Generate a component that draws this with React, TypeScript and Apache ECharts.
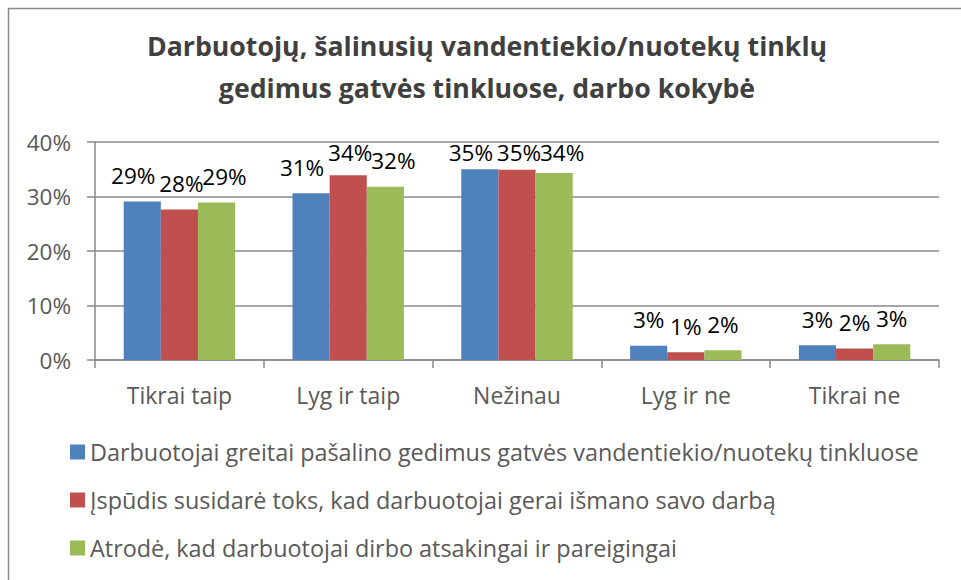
import React, { useEffect, useRef } from "react";
import * as echarts from "echarts";

const titleLines = [
  "Darbuotojų, šalinusių vandentiekio/nuotekų tinklų",
  "gedimus gatvės tinkluose, darbo kokybė",
];
const categories = ["Tikrai taip", "Lyg ir taip", "Nežinau", "Lyg ir ne", "Tikrai ne"];
const seriesNames = [
  "Darbuotojai greitai pašalino gedimus gatvės vandentiekio/nuotekų tinkluose",
  "Įspūdis susidarė toks, kad darbuotojai gerai išmano savo darbą",
  "Atrodė, kad darbuotojai dirbo atsakingai ir pareigingai",
];
const quickFix = [0.291, 0.306, 0.35, 0.026, 0.027];
const knowWork = [0.276, 0.339, 0.349, 0.014, 0.021];
const responsible = [0.289, 0.318, 0.343, 0.018, 0.029];
const colors = ["#4F81BD", "#C0504D", "#9BBB59"];
const yTicks = { min: 0, max: 0.4, interval: 0.1 };

const FONT = "Open Sans";
const pct = (v: number) => Math.round(v * 100) + "%";

export default function App() {
  const ref = useRef<HTMLDivElement>(null);
  useEffect(() => {
    if (!ref.current) return;
    const chart = echarts.init(ref.current, null, { renderer: "svg" });
    const values = [quickFix, knowWork, responsible];
    const shiftX = [-9, 2, 8];
    chart.setOption({
      animation: false,
      backgroundColor: "#fff",
      textStyle: { fontFamily: FONT },
      title: {
        text: titleLines.join("\n"),
        left: 487,
        top: 24,
        padding: 0,
        textAlign: "center",
        textStyle: {
          fontFamily: FONT,
          fontWeight: "bold",
          fontSize: 26.7,
          lineHeight: 42,
          color: "#404040",
        },
      },
      graphic: [
        {
          type: "polyline",
          shape: { points: [[8.5, 580], [8.5, 8.5], [961, 8.5]] },
          style: { stroke: "#8a8a8a", lineWidth: 1.5, fill: "none" },
          silent: true,
        },
      ],
      legend: {
        orient: "vertical",
        left: 70,
        top: 440,
        padding: 0,
        itemWidth: 15,
        itemHeight: 15,
        itemGap: 24,
        icon: "rect",
        data: seriesNames,
        textStyle: { fontFamily: FONT, fontSize: 23.4, lineHeight: 24, color: "#595959" },
      },
      grid: { left: 95, right: 22, top: 142, bottom: 220, containLabel: false },
      xAxis: {
        type: "category",
        data: categories,
        axisLine: { lineStyle: { color: "#8a8a8a", width: 1.5 } },
        axisTick: { show: true, length: 8, interval: 0, lineStyle: { color: "#8a8a8a", width: 1.5 } },
        axisLabel: { fontFamily: FONT, fontSize: 23, color: "#595959", margin: 23, interval: 0 },
      },
      yAxis: {
        type: "value",
        min: yTicks.min,
        max: yTicks.max,
        interval: yTicks.interval,
        axisLine: { show: true, lineStyle: { color: "#8a8a8a", width: 1.5 } },
        axisTick: { show: true, length: 8, lineStyle: { color: "#8a8a8a", width: 1.5 } },
        splitLine: { lineStyle: { color: "#8a8a8a", width: 1.5 } },
        axisLabel: {
          fontFamily: FONT,
          fontSize: 22.5,
          color: "#595959",
          margin: 24,
          formatter: (v: number) => pct(v),
        },
      },
      series: seriesNames.map((name, i) => ({
        name,
        type: "bar",
        data: values[i],
        barGap: "0%",
        barCategoryGap: "34%",
        itemStyle: { color: colors[i] },
        label: {
          show: true,
          position: "top",
          distance: 13,
          fontFamily: FONT,
          fontSize: 22.5,
          lineHeight: 26,
          color: "#000",
          formatter: (p: any) => pct(p.value),
        },
        labelLayout: (params: any) => {
          const lr = params.labelRect;
          const r = params.rect;
          let dx = 0;
          let dy = 0;
          if (lr.width > r.width - 2) dx = shiftX[params.seriesIndex];
          if (lr.y < 139) dy = 139 - lr.y;
          return { dx, dy };
        },
      })),
    });
    return () => chart.dispose();
  }, []);
  return (
    <div
      ref={ref}
      style={{ position: "fixed", left: 0, top: 0, width: 961, height: 580 }}
    />
  );
}
